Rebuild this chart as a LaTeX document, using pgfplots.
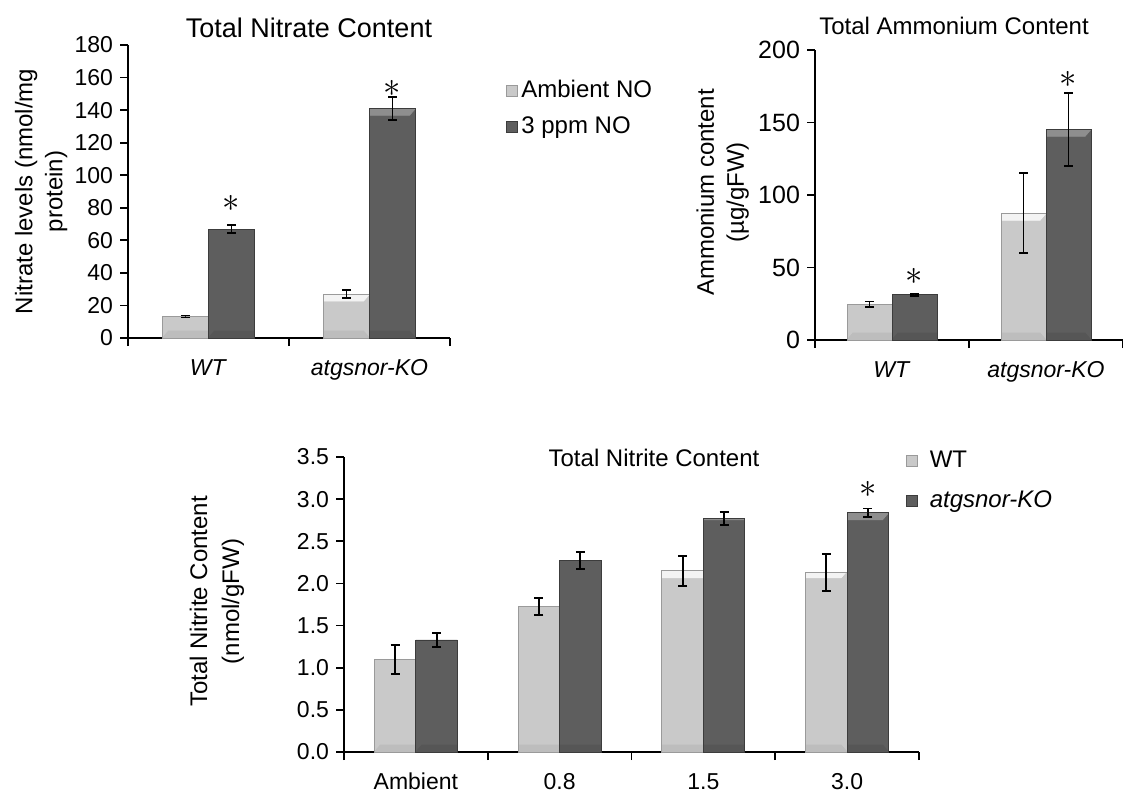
\documentclass[border=0pt]{standalone}
\usepackage{fontspec}
\setmainfont{Liberation Sans}
\usepackage{pgfplots}
\pgfplotsset{compat=1.18}

\definecolor{lightbar}{HTML}{C9C9C9}
\definecolor{lighttop}{HTML}{F3F3F3}
\definecolor{lightbot}{HTML}{BDBDBD}
\definecolor{lightedge}{HTML}{9A9A9A}
\definecolor{darkbar}{HTML}{5E5E5E}
\definecolor{darktop}{HTML}{8E8E8E}
\definecolor{darkbot}{HTML}{565656}
\definecolor{darkedge}{HTML}{3C3C3C}

\tikzset{
  bevel/.style 2 args={
    path picture={
      \fill[path picture={}, #1] (path picture bounding box.north west) -- (path picture bounding box.north east)
        -- ([xshift=-3pt,yshift=-3.5pt]path picture bounding box.north east)
        -- ([xshift=3pt,yshift=-3.5pt]path picture bounding box.north west) -- cycle;
      \fill[path picture={}, #2] (path picture bounding box.south west) -- (path picture bounding box.south east)
        -- ([xshift=-3pt,yshift=3.5pt]path picture bounding box.south east)
        -- ([xshift=3pt,yshift=3.5pt]path picture bounding box.south west) -- cycle;
    }},
  lightstyle/.style={fill=lightbar, draw=lightedge, line width=0.4pt, bevel={lighttop}{lightbot}},
  darkstyle/.style={fill=darkbar, draw=darkedge, line width=0.4pt, bevel={darktop}{darkbot}},
  star/.style={font=\fontsize{18}{18}\selectfont, inner sep=0pt},
}

\pgfplotsset{
  panel/.style={
    scale only axis,
    axis x line*=bottom, axis y line*=left,
    axis line style={line width=0.9pt},
    ybar=0pt, ymin=0, xmin=0, clip=false,
    tick align=outside,
    major tick length=4pt, minor tick length=4pt,
    tick style={black, line width=0.9pt},
    major x tick style={draw=none},
    ytick pos=left, xtick pos=bottom,
    tick label style={font=\fontsize{11.5}{13}\selectfont},
    xticklabel style={yshift=-2.5pt, text height=8.5pt, text depth=2.5pt},
    /pgf/number format/assume math mode=true,
    ylabel style={align=center, anchor=center, font=\fontsize{12}{15}\selectfont},
    error bars/y dir=both, error bars/y explicit,
    error bars/error mark=-,
    error bars/error bar style={path picture={}, black, line width=0.9pt},
    error bars/error mark options={path picture={}, rotate=90, black, line width=0.9pt, mark size=2.2pt},
    legend style={draw=none, fill=none, font=\fontsize{12}{14}\selectfont,
      row sep=4pt, inner sep=0pt},
    legend cell align=left,
    legend image code/.code={\draw[##1, path picture={}, line width=0.3pt] (0pt,-2.75pt) rectangle (5.5pt,2.75pt);},
  },
}

\begin{document}
\begin{tikzpicture}
\useasboundingbox (0pt,0pt) rectangle (561.5pt,-395.5pt);

% Total nitrate
\begin{axis}[panel,
  at={(64pt,-169pt)}, anchor=south west,
  width=161pt, height=146.5pt,
  xmax=2, ymax=180, ytick={0,20,...,180},
  xtick={0.5,1.5}, xticklabels={\textit{WT},\textit{atgsnor-KO}},
  minor xtick={0,1,2},
  bar width=23pt,
  ylabel={Nitrate levels (nmol/mg\\protein)},
  ylabel style={at={(axis description cs:-0.27,0.5)}},
  legend style={at={(axis description cs:1.172,0.895)}, anchor=north west},
]
\addplot[lightstyle] coordinates {(0.5,13.2) +- (0,0.6) (1.5,27.0) +- (0,2.5)};
\addlegendentry{Ambient NO}
\addplot[darkstyle] coordinates {(0.5,66.9) +- (0,2.4) (1.5,141.1) +- (0,7.0)};
\addlegendentry{3 ppm NO}
\node[star] at (axis cs:0.5,82.9) [xshift=11.5pt] {$\ast$};
\node[star] at (axis cs:1.5,153.6) [xshift=11.5pt] {$\ast$};
\end{axis}
\node[font=\fontsize{13.5}{15}\selectfont] at (154.5pt,-14pt) {Total Nitrate Content};

% Total ammonium
\begin{axis}[panel,
  at={(407.5pt,-170pt)}, anchor=south west,
  width=154pt, height=145pt,
  xmax=2, ymax=200, ytick={0,50,...,200},
  yticklabel style={font=\fontsize{12.5}{14}\selectfont},
  xtick={0.5,1.5}, xticklabels={\textit{WT},\textit{atgsnor-KO}},
  minor xtick={0,1,2},
  bar width=22.5pt,
  ylabel={Ammonium content\\(µg/gFW)},
  ylabel style={at={(axis description cs:-0.3,0.509)}},
]
\addplot[lightstyle] coordinates {(0.5,24.8) +- (0,1.8) (1.5,87.4) +- (0,27.6)};
\addplot[darkstyle] coordinates {(0.5,31.3) +- (0,0.7) (1.5,145.3) +- (0,25.1)};
\node[star] at (axis cs:0.5,44.1) [xshift=11.25pt] {$\ast$};
\node[star] at (axis cs:1.5,180) [xshift=11.25pt] {$\ast$};
\end{axis}
\node[font=\fontsize{12}{14}\selectfont] at (477pt,-13pt) {Total Ammonium Content};

% Total nitrite
\begin{axis}[panel,
  at={(172pt,-376pt)}, anchor=south west,
  width=287.5pt, height=147.5pt,
  xmax=4, ymax=3.5, ytick={0,0.5,...,3.5},
  yticklabel style={/pgf/number format/.cd, fixed, fixed zerofill, precision=1},
  xtick={0.5,1.5,2.5,3.5}, xticklabels={Ambient,0.8,1.5,3.0},
  minor xtick={0,1,2,3,4},
  bar width=20.75pt,
  ylabel={Total Nitrite Content\\(nmol/gFW)},
  ylabel style={at={(axis description cs:-0.221,0.51)}, font=\fontsize{12}{16}\selectfont},
  legend style={at={(axis description cs:0.977,1.035)}, anchor=north west, row sep=6pt,
    /tikz/every odd column/.append style={column sep=4pt}},
]
\addplot[lightstyle] coordinates {(0.5,1.10) +- (0,0.17) (1.5,1.73) +- (0,0.10) (2.5,2.15) +- (0,0.18) (3.5,2.13) +- (0,0.22)};
\addlegendentry{WT}
\addplot[darkstyle] coordinates {(0.5,1.33) +- (0,0.08) (1.5,2.27) +- (0,0.10) (2.5,2.77) +- (0,0.08) (3.5,2.84) +- (0,0.05)};
\addlegendentry{\textit{atgsnor-KO}}
\node[star] at (axis cs:3.5,3.11) [xshift=10.4pt] {$\ast$};
\end{axis}
\node[font=\fontsize{12}{14}\selectfont] at (327pt,-229pt) {Total Nitrite Content};
\end{tikzpicture}
\end{document}
